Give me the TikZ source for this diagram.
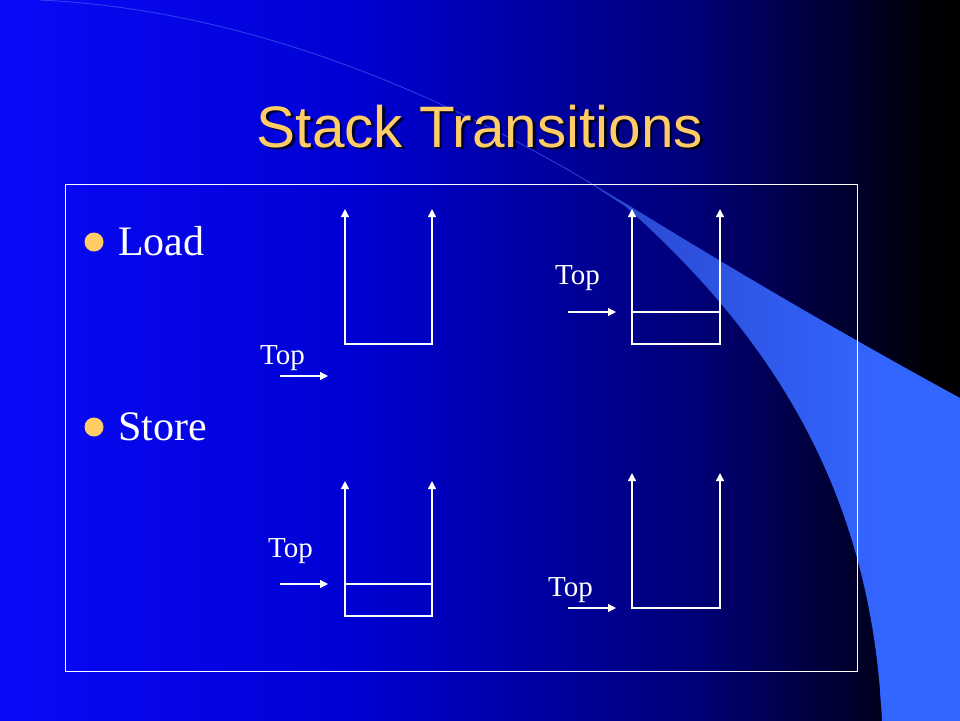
\documentclass[tikz,border=0pt]{standalone}
\usepackage{fontspec}
\setmainfont{Liberation Serif}
\newfontfamily\titlefont{Liberation Sans}
\usetikzlibrary{arrows.meta}
\definecolor{bgA}{RGB}{10,10,248}
\definecolor{bgB}{RGB}{0,0,212}
\definecolor{bgC}{RGB}{0,0,118}
\definecolor{bgD}{RGB}{0,0,0}
\definecolor{swA}{RGB}{80,110,245}
\definecolor{swB}{RGB}{40,66,198}
\definecolor{swC}{RGB}{51,102,255}
\definecolor{gold}{RGB}{255,204,102}
\tikzset{
  stackline/.style={white, line width=1.4pt, {Triangle[length=8pt,width=8pt]}-{Triangle[length=8pt,width=8pt]}},
  midline/.style={white, line width=1.4pt},
  topline/.style={white, line width=1.4pt, -{Triangle[length=8pt,width=8pt]}},
  toplabel/.style={text=white, font=\fontsize{29}{34}\selectfont, anchor=base west, inner sep=0pt},
  bullettext/.style={text=white, font=\fontsize{42}{48}\selectfont, anchor=base west, inner sep=0pt},
  bulletdot/.style={fill=gold},
  framebox/.style={white, line width=1pt},
  titletext/.style={font=\titlefont\fontsize{58.5}{66}\selectfont, anchor=base, inner sep=0pt},
}
\begin{document}
\begin{tikzpicture}[x=1pt,y=-1pt]
\useasboundingbox (0,0) rectangle (960,720);
% background gradient
\shade[left color=bgA, right color=bgB] (-2,-2) rectangle (351,722);
\shade[left color=bgB, right color=bgC] (350,-2) rectangle (701,722);
\shade[left color=bgC, right color=bgD] (700,-2) rectangle (941,722);
\fill[bgD] (940,-2) rectangle (962,722);
% swoosh: faint thin line
\draw[swA, opacity=0.55, line width=0.9pt] (40,0) .. controls (250,10) and (450,95) .. (625,204);
% swoosh: band
\begin{scope}
  \clip (560,164) .. controls (580,177) and (600,190) .. (625,203)
        .. controls (740,274) and (850,338) .. (960,398)
        -- (962,722) -- (882,722)
        .. controls (872,490) and (770,335) .. (625,206)
        .. controls (600,190) and (580,177) .. (560,164) -- cycle;
  \shade[left color=swB, right color=swC] (560,-2) rectangle (881,722);
  \fill[swC] (880,-2) rectangle (962,722);
\end{scope}
% title
\node[titletext, text=black, opacity=0.75] at (482.5,149.5) {Stack Transitions};
\node[titletext, text=gold] (title) at (480,147) {Stack Transitions};
% frame
\draw[framebox] (65,184) rectangle (857,671);
% bullets
\fill[bulletdot] (94,242) circle (9.5);
\fill[bulletdot] (94,427) circle (9.5);
\node[bullettext] (load) at (118,255) {Load};
\node[bullettext] (store) at (118,440) {Store};
% stack 1 (Load, before)
\coordinate (s1tl) at (345,209); \coordinate (s1bl) at (345,344);
\coordinate (s1br) at (432,344); \coordinate (s1tr) at (432,209);
\draw[stackline] (s1tl) -- (s1bl) -- (s1br) -- (s1tr);
\node[toplabel] (top1) at (260,364) {Top};
\coordinate (a1s) at (280,376); \coordinate (a1e) at (328,376);
\draw[topline] (a1s) -- (a1e);
% stack 2 (Load, after)
\coordinate (s2tl) at (632,209); \coordinate (s2bl) at (632,344);
\coordinate (s2br) at (720,344); \coordinate (s2tr) at (720,209);
\coordinate (s2ml) at (632,312); \coordinate (s2mr) at (720,312);
\draw[stackline] (s2tl) -- (s2bl) -- (s2br) -- (s2tr);
\draw[midline] (s2ml) -- (s2mr);
\node[toplabel] (top2) at (555,284) {Top};
\coordinate (a2s) at (568,312); \coordinate (a2e) at (616,312);
\draw[topline] (a2s) -- (a2e);
% stack 3 (Store, before)
\coordinate (s3tl) at (345,481); \coordinate (s3bl) at (345,616);
\coordinate (s3br) at (432,616); \coordinate (s3tr) at (432,481);
\coordinate (s3ml) at (345,584); \coordinate (s3mr) at (432,584);
\draw[stackline] (s3tl) -- (s3bl) -- (s3br) -- (s3tr);
\draw[midline] (s3ml) -- (s3mr);
\node[toplabel] (top3) at (268,557) {Top};
\coordinate (a3s) at (280,584); \coordinate (a3e) at (328,584);
\draw[topline] (a3s) -- (a3e);
% stack 4 (Store, after)
\coordinate (s4tl) at (632,473); \coordinate (s4bl) at (632,608);
\coordinate (s4br) at (720,608); \coordinate (s4tr) at (720,473);
\draw[stackline] (s4tl) -- (s4bl) -- (s4br) -- (s4tr);
\node[toplabel] (top4) at (548,596) {Top};
\coordinate (a4s) at (568,608); \coordinate (a4e) at (616,608);
\draw[topline] (a4s) -- (a4e);
\end{tikzpicture}
\end{document}
